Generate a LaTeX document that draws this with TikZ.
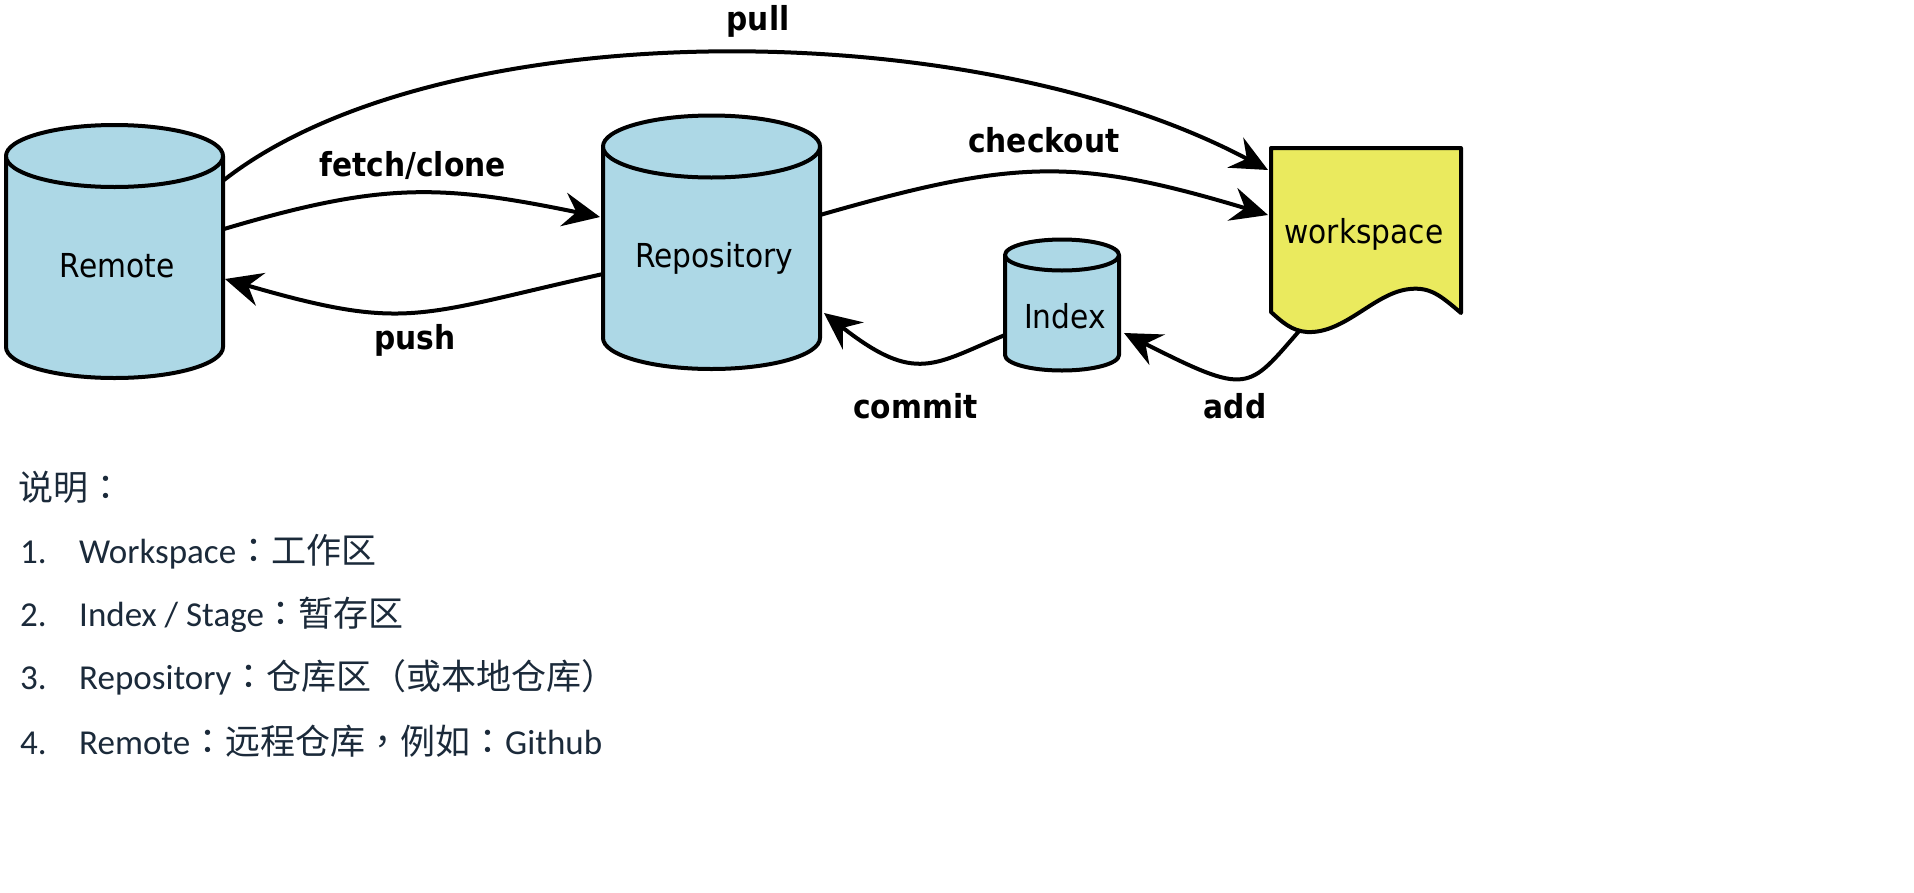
\documentclass[tikz,border=0pt]{standalone}
\usepackage{fontspec}
\setmainfont{Carlito}
\newfontfamily\cjk{Noto Sans CJK SC}
\newfontfamily\cjkp{Noto Sans CJK TC}
\newfontfamily\dvsans[FakeStretch=0.9]{DejaVu Sans}
\usetikzlibrary{arrows.meta,calc}

\definecolor{cylblue}{RGB}{173,216,230}
\definecolor{wsyellow}{RGB}{234,234,94}
\definecolor{notetext}{RGB}{27,42,58}

\tikzset{
  outline/.style={line width=4pt, draw=black, line join=round},
  flow/.style={line width=4pt, line join=round, -{Stealth[length=37pt,width=34pt,inset=13pt]}},
  flowlabel/.style={font=\dvsans\bfseries\fontsize{33}{36}\selectfont, anchor=base, inner sep=0pt},
  shapelabel/.style={font=\dvsans\fontsize{33}{36}\selectfont, anchor=base, inner sep=0pt},
  body/.style={inner sep=0pt, outer sep=0pt, draw=none},
  notes/.style={font=\fontsize{35}{42}\selectfont, text=notetext, anchor=base west, inner sep=0pt},
}

% upright cylinder: #1 name, #2 centre x, #3 top-centre y, #4 bottom-centre y, #5 x radius, #6 y radius
\newcommand\dbcyl[6]{%
  \fill[cylblue] (#2-#5,#3) rectangle (#2+#5,#4);
  \fill[cylblue] (#2,#4) ellipse [x radius=#5pt, y radius=#6pt];
  \draw[outline] (#2-#5,#3) -- (#2-#5,#4)
     arc [start angle=180, end angle=360, x radius=#5pt, y radius=#6pt] -- (#2+#5,#3);
  \draw[outline, fill=cylblue] (#2,#3) ellipse [x radius=#5pt, y radius=#6pt];
  \node[body, minimum width={2*#5pt}, minimum height={(#4-#3)*1pt}] (#1) at (#2,{(#3+#4)/2}) {};
}

\begin{document}
\begin{tikzpicture}[x=1pt, y=-1pt]
\path[fill=white, use as bounding box] (0,0) rectangle (1914,892);

% storage areas
\dbcyl{remote}{114.5}{156}{347}{108.5}{31}
\dbcyl{repo}{711.5}{146.5}{338}{108.5}{31}
\dbcyl{index}{1062}{255}{355}{57}{15.5}

% working copy as a document sheet
\draw[outline, fill=wsyellow] (1271,148) -- (1461,148) -- (1461,313)
  .. controls (1440,295) and (1430,287) .. (1410,289)
  .. controls (1375,292) and (1345,334) .. (1307,332)
  .. controls (1292,331) and (1282,322) .. (1271,312) -- cycle;
\node[body, minimum width=190pt, minimum height=164pt] (ws) at (1366,230) {};

% shape captions
\node[shapelabel] (remote-label) at (117,277) {Remote};
\node[shapelabel] (repo-label) at (714,267) {Repository};
\node[shapelabel] (index-label) at (1065,328) {Index};
\node[shapelabel] (ws-label) at (1364,243) {workspace};

% transfers between areas
\draw[flow] ($(remote.north east)+(1,24)$)
  .. controls +(215.5,-168) and +(-297,-158) .. ($(ws.north west)+(-3,22)$);
\draw[flow] ($(remote.north east)+(1,73)$)
  .. controls +(158,-47) and +(-160,-33) .. ($(repo.north west)+(-3,70.5)$);
\draw[flow] ($(repo.north west)+(0,127.5)$)
  .. controls +(-187,41.5) and +(183,53) .. ($(remote.north east)+(2,123)$);
\draw[flow] ($(repo.north east)+(0,68.5)$)
  .. controls +(195,-56) and +(-193,-58) .. ($(ws.north west)+(-3,67)$);
\draw[flow] ($(index.north west)+(0,80)$)
  .. controls +(-71,29) and +(92,72) .. ($(repo.north east)+(4,166.5)$);
\draw[flow] ($(ws.south west)+(29,18)$)
  .. controls +(-52.5,60) and +(125.6,63.6) .. ($(index.north east)+(5,78)$);

% transfer names
\node[flowlabel] (pull-label) at (758,30) {pull};
\node[flowlabel] (fetch-label) at (412.6,176) {fetch/clone};
\node[flowlabel] (push-label) at (415,349) {push};
\node[flowlabel] (checkout-label) at (1043.7,152) {checkout};
\node[flowlabel] (commit-label) at (915.5,418) {commit};
\node[flowlabel] (add-label) at (1235,418) {add};

% notes
\node[notes] (note-head) at (18.5,500) {\cjk 说明\cjkp ：};
\node[notes] (num-1) at (20,563.3) {1.};
\node[notes] (note-1) at (79,563.3) {Workspace{\cjkp ：}{\cjk 工作区}};
\node[notes] (num-2) at (20,626.7) {2.};
\node[notes] (note-2) at (79,626.7) {Index / Stage{\cjkp ：}{\cjk 暂存区}};
\node[notes] (num-3) at (20,689.5) {3.};
\node[notes] (note-3) at (79,689.5) {Repository{\cjkp ：}{\cjk 仓库区}{\cjkp （}{\cjk 或本地仓库}{\cjkp ）}};
\node[notes] (num-4) at (20,754) {4.};
\node[notes] (note-4) at (79,754) {Remote{\cjkp ：}{\cjk 远程仓库}{\cjkp ，}{\cjk 例如}{\cjkp ：}Github};
\end{tikzpicture}
\end{document}
